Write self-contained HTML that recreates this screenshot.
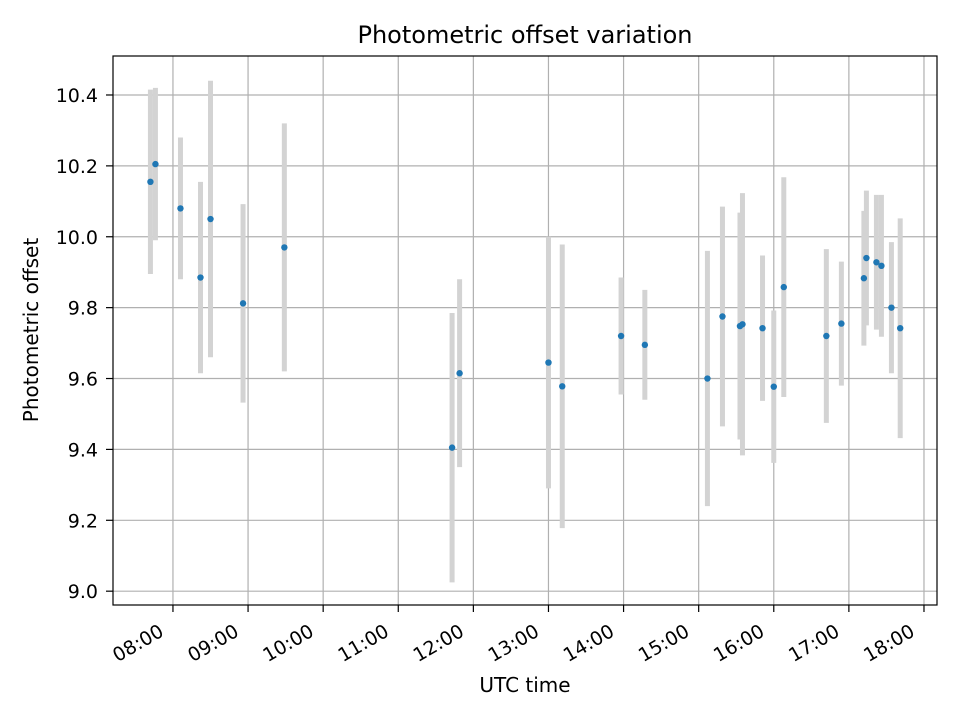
<!DOCTYPE html>
<html><head><meta charset="utf-8"><style>
body{margin:0;background:#fff;font-family:"Liberation Sans","DejaVu Sans",sans-serif;}
svg text{font-family:"DejaVu Sans","Liberation Sans",sans-serif;}
</style></head><body>
<svg id="chart" width="960" height="720" xmlns="http://www.w3.org/2000/svg">
<rect width="960" height="720" fill="#fff"/>
<g id="grid"></g>
<g id="bars"></g>
<g id="pts"></g>
<rect x="113" y="56" width="824" height="549" fill="none" stroke="#000" stroke-width="1.2"/>
<g id="ticks"></g>
<text x="525" y="43" text-anchor="middle" font-size="24">Photometric offset variation</text>
<text x="525" y="692" text-anchor="middle" font-size="20">UTC time</text>
<text transform="translate(38,330) rotate(-90)" text-anchor="middle" font-size="20">Photometric offset</text>
</svg>
<script>
const times=["07:42","07:46","08:06","08:22","08:30","08:56","09:29","11:43","11:49","13:00","13:11","13:58","14:17","15:07","15:19","15:33","15:35","15:51","16:00","16:08","16:42","16:54","17:12","17:14","17:22","17:26","17:34","17:41"];
const offsets=[10.155,10.205,10.08,9.885,10.05,9.812,9.97,9.405,9.615,9.645,9.578,9.72,9.695,9.60,9.775,9.748,9.753,9.742,9.577,9.858,9.72,9.755,9.883,9.94,9.928,9.918,9.80,9.742];
const errors=[0.26,0.215,0.2,0.27,0.39,0.28,0.35,0.38,0.265,0.355,0.4,0.165,0.155,0.36,0.31,0.32,0.37,0.205,0.215,0.31,0.245,0.175,0.19,0.19,0.19,0.2,0.185,0.31];
const xTickLabels=["08:00","09:00","10:00","11:00","12:00","13:00","14:00","15:00","16:00","17:00","18:00"];
const yTickLabels=["9.0","9.2","9.4","9.6","9.8","10.0","10.2","10.4"];
const NS="http://www.w3.org/2000/svg";
const X0=113,X1=937,Y0=56,Y1=605,XMIN=-47.9,XMAX=610.4,YMIN=8.961,YMAX=10.51;
function mins(t){const p=t.split(":");return (+p[0]-8)*60+ +p[1];}
function xs(m){return X0+(m-XMIN)/(XMAX-XMIN)*(X1-X0);}
function ys(v){return Y1-(v-YMIN)/(YMAX-YMIN)*(Y1-Y0);}
function mk(tag,attrs,parent){const e=document.createElementNS(NS,tag);for(const k in attrs)e.setAttribute(k,attrs[k]);parent.appendChild(e);return e;}
const grid=document.getElementById('grid'),ticks=document.getElementById('ticks');
xTickLabels.forEach(l=>{const x=xs(mins(l));
 const g=mk('line',{x1:x,x2:x,y1:Y0,y2:Y1,stroke:'#b0b0b0','stroke-width':1.2},grid);
 
 
 const t=mk('line',{x1:x,x2:x,y1:Y1,y2:Y1+7,stroke:'#000','stroke-width':1.2},ticks);
 
 
 const tx=mk('text',{transform:`translate(${x-8},${Y1+30}) rotate(-30)`,'text-anchor':'end','font-size':'19'},ticks);
 tx.textContent=l;
 
 
});
yTickLabels.forEach(l=>{const y=ys(parseFloat(l));
 const g=mk('line',{x1:X0,x2:X1,y1:y,y2:y,stroke:'#b0b0b0','stroke-width':1.2},grid);
 
 
 const t=mk('line',{x1:X0-7,x2:X0,y1:y,y2:y,stroke:'#000','stroke-width':1.2},ticks);
 
 
 const tx=mk('text',{x:X0-15,y:y+7,'text-anchor':'end','font-size':'19'},ticks);
 tx.textContent=l;
 
 
});
const bars=document.getElementById('bars'),pts=document.getElementById('pts');
times.forEach((t,i)=>{const x=xs(mins(t));
 const b=mk('line',{x1:x,x2:x,y1:ys(offsets[i]+errors[i]),y2:ys(offsets[i]-errors[i]),stroke:'#d3d3d3','stroke-width':5},bars);
 
 
 const c=mk('circle',{cx:x,cy:ys(offsets[i]),r:3.2,fill:'#1f77b4'},pts);
 
 
});
</script>
</body></html>
